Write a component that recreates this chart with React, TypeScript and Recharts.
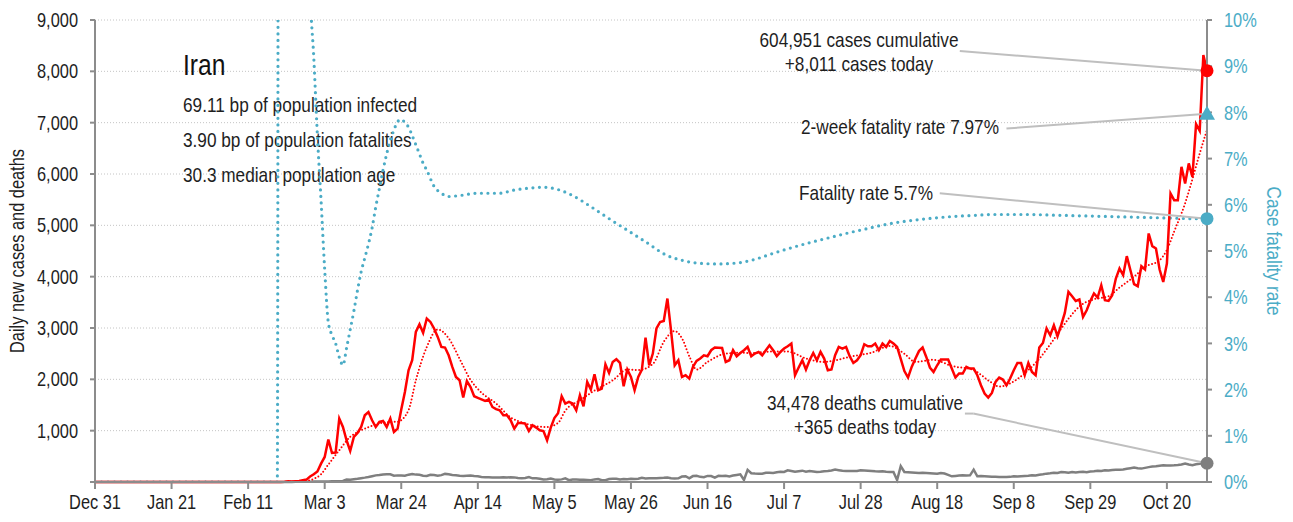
import React from 'react';
import { ComposedChart, Line, XAxis, YAxis, CartesianGrid, ReferenceDot, ReferenceLine } from 'recharts';

// ---------- data ----------
const dayTicks = [0, 21, 42, 63, 84, 105, 126, 147, 168, 189, 210, 231, 252, 273, 294];
const tickLabels = ['Dec 31', 'Jan 21', 'Feb 11', 'Mar 3', 'Mar 24', 'Apr 14', 'May 5', 'May 26', 'Jun 16', 'Jul 7', 'Jul 28', 'Aug 18', 'Sep 8', 'Sep 29', 'Oct 20'];
const leftTicks = [0, 1000, 2000, 3000, 4000, 5000, 6000, 7000, 8000, 9000];
const rightTicks = [0, 1, 2, 3, 4, 5, 6, 7, 8, 9, 10];

// daily new cases, day 0 = Dec 31
const dailyCases = [
  0, 0, 0, 0, 0, 0, 0, 0, 0, 0,
  0, 0, 0, 0, 0, 0, 0, 0, 0, 0,
  0, 0, 0, 0, 0, 0, 0, 0, 0, 0,
  0, 0, 0, 0, 0, 0, 0, 0, 0, 0,
  0, 0, 0, 0, 0, 0, 0, 0, 0, 0,
  0, 2, 3, 13, 10, 15, 18, 34, 47, 106,
  150, 205, 358, 488, 826, 565, 573, 1236, 1072, 813,
  604, 877, 955, 1072, 1300, 1364, 1203, 1072, 1170, 1189,
  1072, 1236, 975, 1040, 1411, 1754, 2177, 2372, 2924, 3073,
  2904, 3185, 3118, 2990, 2826, 2631, 2619, 2469, 2241, 2046,
  1982, 1645, 1968, 1851, 1670, 1640, 1610, 1579, 1606, 1462,
  1420, 1397, 1300, 1300, 1203, 1040, 1150, 1150, 1138, 994,
  1105, 1060, 1008, 994, 813, 1060, 1245, 1340, 1670, 1528,
  1559, 1528, 1397, 1690, 1475, 1949, 1801, 2099, 1787, 1820,
  2294, 2124, 2339, 2391, 2319, 1865, 2191, 2046, 1787, 2046,
  2191, 2814, 2274, 2502, 2990, 3118, 3138, 3574, 2950, 2274,
  2372, 2046, 2080, 2015, 2241, 2358, 2405, 2469, 2450, 2567,
  2619, 2615, 2612, 2339, 2372, 2567, 2450, 2514, 2567, 2631,
  2450, 2502, 2534, 2469, 2567, 2664, 2567, 2450, 2534, 2600,
  2645, 2697, 2080, 2230, 2372, 2191, 2372, 2514, 2372, 2534,
  2405, 2177, 2191, 2469, 2631, 2600, 2631, 2450, 2319, 2372,
  2469, 2684, 2645, 2645, 2697, 2567, 2697, 2631, 2748, 2697,
  2631, 2400, 2160, 2035, 2241, 2400, 2550, 2619, 2436, 2230,
  2144, 2274, 2385, 2385, 2385, 2210, 2035, 2113, 2113, 2241,
  2210, 2210, 2080, 1885, 1723, 1645, 1735, 1949, 2035, 1996,
  1885, 2015, 2177, 2319, 2319, 2080, 2319, 2144, 2080, 2619,
  2709, 2990, 2859, 3054, 2840, 3054, 3294, 3703, 3619, 3528,
  3555, 3216, 3346, 3528, 3672, 3594, 3834, 3541, 3528, 3639,
  3964, 4159, 4029, 4399, 4126, 3853, 3814, 4204, 4140, 4841,
  4594, 4549, 4140, 3898, 4257, 5621, 5490, 5490, 6139, 5816,
  6206, 5945, 6972, 6841, 8316, 8011,
];

// daily new deaths
const dailyDeaths = [
  0, 0, 0, 0, 0, 0, 0, 0, 0, 0,
  0, 0, 0, 0, 0, 0, 0, 0, 0, 0,
  0, 0, 0, 0, 0, 0, 0, 0, 0, 0,
  0, 0, 0, 0, 0, 0, 0, 0, 0, 0,
  0, 0, 0, 0, 0, 0, 0, 0, 0, 0,
  0, 2, 0, 2, 1, 3, 4, 4, 3, 7,
  8, 9, 11, 12, 11, 15, 15, 17, 21, 49,
  43, 54, 63, 75, 85, 97, 113, 129, 135, 147,
  149, 149, 123, 129, 127, 122, 143, 157, 144, 139,
  123, 117, 141, 138, 124, 134, 158, 151, 136, 133,
  121, 117, 122, 125, 117, 111, 98, 94, 92, 89,
  87, 88, 91, 87, 94, 90, 76, 73, 80, 96,
  71, 74, 63, 47, 55, 68, 50, 45, 51, 71,
  35, 48, 48, 45, 44, 40, 34, 51, 58, 34,
  35, 58, 62, 63, 50, 57, 56, 63, 59, 64,
  81, 70, 75, 71, 72, 78, 81, 88, 75, 70,
  72, 107, 113, 71, 115, 120, 100, 93, 119, 116,
  87, 121, 115, 120, 109, 125, 137, 150, 40, 235,
  170, 165, 162, 163, 179, 180, 176, 190, 200, 195,
  228, 215, 200, 210, 221, 200, 214, 205, 195, 200,
  210, 215, 225, 241, 230, 220, 215, 212, 214, 215,
  228, 225, 220, 215, 208, 205, 210, 200, 195, 195,
  40, 310, 195, 190, 185, 180, 175, 180, 176, 170,
  165, 160, 176, 165, 140, 111, 118, 125, 130, 128,
  130, 240, 111, 115, 110, 105, 100, 100, 97, 99,
  97, 100, 111, 105, 110, 115, 120, 130, 125, 140,
  150, 163, 170, 180, 175, 195, 190, 180, 195, 185,
  195, 200, 190, 205, 210, 220, 215, 228, 225, 235,
  239, 241, 245, 260, 270, 281, 270, 261, 275, 290,
  300, 305, 315, 325, 320, 322, 325, 330, 340, 359,
  340, 325, 345, 355, 370, 365,
];

// 7-day average of cases, read at selected days
const avgDays = [0, 50, 57, 60, 62, 64, 67, 70, 72, 75, 78, 81, 83, 86, 88, 91, 94, 97, 100, 103, 106, 110, 114, 118, 124, 127, 129, 133, 137, 142, 146, 149, 153, 156, 159, 161, 163, 165, 168, 173, 177, 180, 185, 190, 195, 200, 203, 207, 213, 218, 222, 225, 230, 235, 241, 245, 248, 251, 255, 259, 263, 267, 270, 274, 278, 281, 285, 288, 292, 294, 296, 299, 301, 303, 305];
const avgValues = [0, 0, 10, 60, 150, 340, 620, 880, 970, 1070, 1140, 1170, 1175, 1400, 1980, 2630, 2970, 2800, 2400, 1990, 1740, 1530, 1260, 1140, 1070, 1150, 1390, 1590, 1780, 1980, 2190, 2180, 2300, 2730, 2940, 2800, 2450, 2190, 2340, 2500, 2520, 2510, 2540, 2540, 2405, 2340, 2370, 2440, 2520, 2650, 2500, 2340, 2380, 2260, 2180, 1980, 1860, 1920, 2120, 2400, 2780, 3180, 3420, 3560, 3620, 3790, 4000, 4190, 4320, 4520, 4880, 5430, 5900, 6400, 6860];

// cumulative case fatality rate (%), read at selected days
const cfrDays = [0, 50, 51, 52, 53, 54, 55, 56, 57, 58, 59, 60, 61, 62, 63, 64, 65, 66, 67, 68, 69, 70, 71, 72, 73, 74, 75, 76, 77, 78, 79, 80, 81, 82, 83, 84, 85, 86, 87, 88, 89, 90, 91, 93, 95, 97, 100, 105, 111, 115, 119, 123, 127, 131, 136, 141, 146, 151, 157, 161, 165, 171, 176, 181, 186, 191, 196, 201, 206, 211, 216, 221, 226, 231, 236, 241, 246, 251, 256, 261, 266, 271, 276, 281, 286, 291, 296, 301, 305];
const cfrValues = [0, 0, 100, 40, 22, 18, 18.6, 19.7, 16.8, 13.7, 10.6, 9.2, 7.5, 6.1, 4.6, 3.45, 3.18, 3.0, 2.7, 2.53, 2.9, 3.3, 3.7, 4.15, 4.55, 4.85, 5.15, 5.5, 5.95, 6.35, 6.75, 7.1, 7.4, 7.62, 7.8, 7.85, 7.78, 7.68, 7.5, 7.3, 7.1, 6.9, 6.75, 6.4, 6.25, 6.18, 6.2, 6.25, 6.25, 6.32, 6.36, 6.38, 6.33, 6.2, 5.96, 5.7, 5.45, 5.2, 4.9, 4.8, 4.74, 4.72, 4.74, 4.82, 4.95, 5.07, 5.18, 5.28, 5.38, 5.47, 5.56, 5.63, 5.68, 5.72, 5.75, 5.77, 5.79, 5.79, 5.79, 5.78, 5.77, 5.76, 5.75, 5.74, 5.73, 5.72, 5.71, 5.7, 5.7];

const twoWeekCfr = 7.97;
const LAST = dailyCases.length - 1;

const avgMap = new Map(avgDays.map((d, i) => [d, avgValues[i]] as [number, number]));
const cfrMap = new Map(cfrDays.map((d, i) => [d, cfrValues[i]] as [number, number]));
const chartData = dailyCases.map((c, i) => ({
  day: i,
  cases: c,
  deaths: dailyDeaths[i],
  avg: avgMap.has(i) ? avgMap.get(i) : null,
  cfr: cfrMap.has(i) ? cfrMap.get(i) : null,
}));

// ---------- style ----------
const FONT = "'Liberation Sans', Arial, sans-serif";
const SQUEEZE = 0.82; // condensed look
const RED = '#ff0000';
const TEAL = '#4bacc6';
const GRAY = '#7f7f7f';
const AXIS = '#8c8c8c';
const TEXT = '#1e1e1e';
const LEADER = '#bfbfbf';

type NTProps = { x: number; y: number; size?: number; fill?: string; anchor?: 'start' | 'middle' | 'end'; rotate?: number; dy?: string; children: React.ReactNode };
const NText = ({ x, y, size = 21, fill = TEXT, anchor = 'start', rotate = 0, dy, children }: NTProps) => (
  <text
    transform={`translate(${x},${y}) rotate(${rotate}) scale(${SQUEEZE},1)`}
    textAnchor={anchor}
    fontSize={size}
    fill={fill}
    fontFamily={FONT}
    dy={dy}
  >
    {children}
  </text>
);

const XTick = (props: any) => {
  const { x, y, payload } = props;
  const idx = dayTicks.indexOf(payload.value);
  return <NText x={x} y={y} size={20} anchor="middle" dy="0.71em">{tickLabels[idx] ?? ''}</NText>;
};
const LeftTick = (props: any) => {
  const { x, y, payload } = props;
  const v = payload.value as number;
  return <NText x={x} y={y} size={20} anchor="end" dy="0.355em">{v === 0 ? '' : v.toLocaleString('en-US')}</NText>;
};
const RightTick = (props: any) => {
  const { x, y, payload } = props;
  return <NText x={x} y={y} size={20} anchor="start" fill={TEAL} dy="0.355em">{`${payload.value}%`}</NText>;
};

function endDot(color: string, r: number) {
  return (props: any) => {
    const { cx, cy, index } = props;
    const key = `dot-${color}-${index}`;
    if (index !== LAST || cx == null || cy == null) return <g key={key} />;
    return <circle key={key} cx={cx} cy={cy} r={r} fill={color} stroke="none" />;
  };
}

const Triangle = (props: any) => {
  const { cx, cy } = props;
  const s = 8;
  return <path d={`M${cx},${cy - s} L${cx + s},${cy + s * 0.75} L${cx - s},${cy + s * 0.75} Z`} fill={TEAL} />;
};

export default function App() {
  return (
    <div style={{ position: 'absolute', left: 0, top: 0, background: '#fff' }}>
      <ComposedChart
        width={1293}
        height={522}
        data={chartData}
        margin={{ top: 20, right: 0, bottom: 10, left: 0 }}
        style={{ fontFamily: FONT }}
      >
        <CartesianGrid yAxisId="left" vertical={false} stroke="#c4c4c4" strokeDasharray="1 2" />
        <XAxis
          dataKey="day"
          type="number"
          domain={[0, LAST]}
          ticks={dayTicks}
          interval={0}
          tick={<XTick />}
          tickSize={7}
          tickMargin={6}
          axisLine={{ stroke: AXIS, strokeWidth: 2 }}
          tickLine={{ stroke: AXIS, strokeWidth: 2 }}
          height={30}
        />
        <YAxis
          yAxisId="left"
          domain={[0, 9000]}
          ticks={leftTicks}
          interval={0}
          width={95}
          tick={<LeftTick />}
          tickSize={5}
          tickMargin={12}
          axisLine={{ stroke: AXIS, strokeWidth: 2 }}
          tickLine={{ stroke: AXIS, strokeWidth: 2 }}
        />
        <YAxis
          yAxisId="right"
          orientation="right"
          domain={[0, 10]}
          ticks={rightTicks}
          interval={0}
          allowDataOverflow
          width={86}
          tick={<RightTick />}
          tickSize={5}
          tickMargin={12}
          axisLine={{ stroke: AXIS, strokeWidth: 2 }}
          tickLine={{ stroke: AXIS, strokeWidth: 2 }}
        />

        <Line yAxisId="right" dataKey="cfr" type="monotone" connectNulls stroke={TEAL} strokeWidth={3.2}
          strokeDasharray="0 6.5" strokeLinecap="round" dot={endDot(TEAL, 6.5)} activeDot={false} isAnimationActive={false} />
        <Line yAxisId="left" dataKey="deaths" type="linear" stroke={GRAY} strokeWidth={2.5}
          dot={endDot(GRAY, 6.5)} activeDot={false} isAnimationActive={false} />
        <Line yAxisId="left" dataKey="avg" type="monotone" connectNulls stroke={RED} strokeWidth={2}
          strokeDasharray="0 3.4" strokeLinecap="round" dot={false} activeDot={false} isAnimationActive={false} />
        <Line yAxisId="left" dataKey="cases" type="linear" stroke={RED} strokeWidth={2.5}
          dot={endDot(RED, 6.5)} activeDot={false} isAnimationActive={false} />

        <ReferenceDot yAxisId="right" x={LAST} y={twoWeekCfr} r={8} shape={Triangle} ifOverflow="visible" />

        {/* leader lines */}
        <ReferenceLine yAxisId="left" segment={[{ x: 237.2, y: 8394 }, { x: LAST, y: dailyCases[LAST] }]} stroke={LEADER} strokeWidth={2} ifOverflow="visible" />
        <ReferenceLine yAxisId="right" segment={[{ x: 250, y: 7.65 }, { x: LAST, y: twoWeekCfr }]} stroke={LEADER} strokeWidth={2} ifOverflow="visible" />
        <ReferenceLine yAxisId="right" segment={[{ x: 231.7, y: 6.25 }, { x: LAST, y: cfrValues[cfrValues.length - 1] }]} stroke={LEADER} strokeWidth={2} ifOverflow="visible" />
        <ReferenceLine yAxisId="left" segment={[{ x: 238.6, y: 1333 }, { x: 240.9, y: 1333 }]} stroke={LEADER} strokeWidth={2} ifOverflow="visible" />
        <ReferenceLine yAxisId="left" segment={[{ x: 240.9, y: 1333 }, { x: LAST, y: dailyDeaths[LAST] }]} stroke={LEADER} strokeWidth={2} ifOverflow="visible" />

        {/* axis titles */}
        <NText x={23.5} y={251} rotate={-90} anchor="middle" size={20}>Daily new cases and deaths</NText>
        <NText x={1267} y={251} rotate={90} anchor="middle" size={21} fill={TEAL}>Case fatality rate</NText>

        {/* info block */}
        <NText x={183} y={75} size={30} fill="#111">Iran</NText>
        <NText x={183} y={111.5}>69.11 bp of population infected</NText>
        <NText x={183} y={147}>3.90 bp of population fatalities</NText>
        <NText x={183} y={182}>30.3 median population age</NText>

        {/* data labels */}
        <NText x={859} y={47} anchor="middle">604,951 cases cumulative</NText>
        <NText x={859} y={71} anchor="middle">+8,011 cases today</NText>
        <NText x={999} y={134} anchor="end">2-week fatality rate 7.97%</NText>
        <NText x={933} y={200} anchor="end">Fatality rate 5.7%</NText>
        <NText x={865} y={410} anchor="middle">34,478 deaths cumulative</NText>
        <NText x={865} y={434} anchor="middle">+365 deaths today</NText>
      </ComposedChart>
    </div>
  );
}
